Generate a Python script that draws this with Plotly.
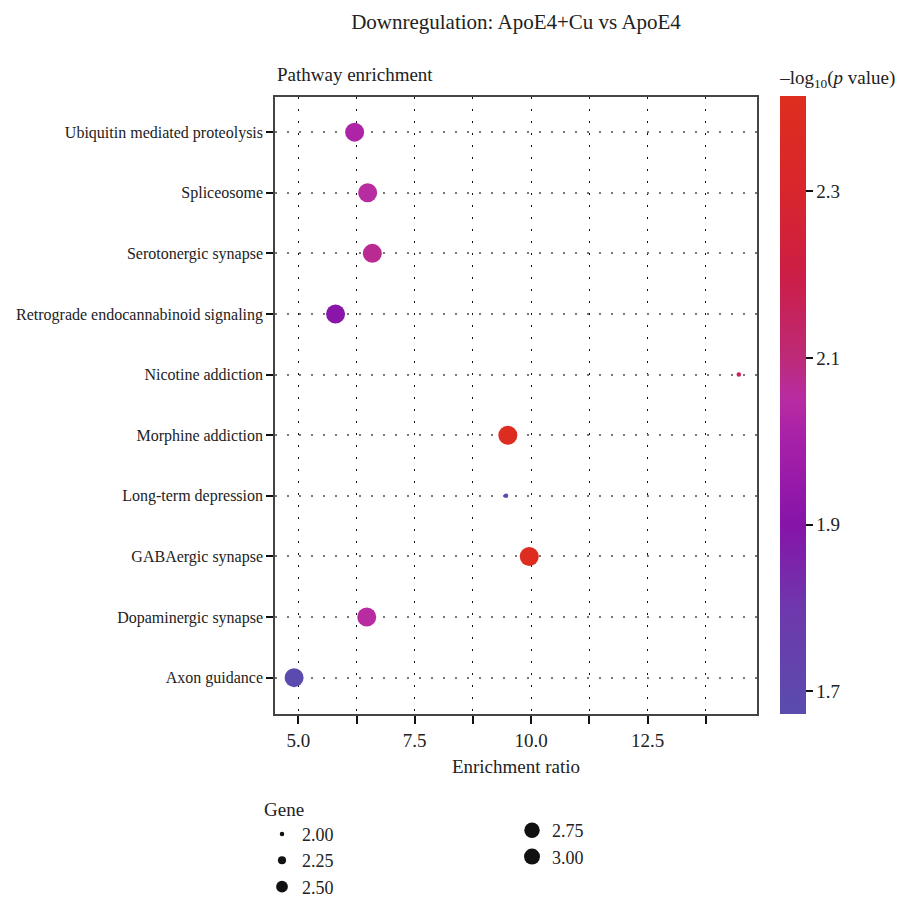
import plotly.graph_objects as go

# ---- data (bottom -> top on the y axis) ----
pathways = [
    "Axon guidance",
    "Dopaminergic synapse",
    "GABAergic synapse",
    "Long-term depression",
    "Morphine addiction",
    "Nicotine addiction",
    "Retrograde endocannabinoid signaling",
    "Serotonergic synapse",
    "Spliceosome",
    "Ubiquitin mediated proteolysis",
]
enrichment_ratio = [4.91, 6.47, 9.96, 9.46, 9.50, 14.46, 5.80, 6.59, 6.49, 6.21]
neg_log10_p = [1.68, 2.05, 2.40, 1.70, 2.40, 2.16, 1.91, 2.07, 2.05, 2.02]
gene_count = [3, 3, 3, 2, 3, 2, 3, 3, 3, 3]

legend_genes_col1 = [2.00, 2.25, 2.50]
legend_genes_col2 = [2.75, 3.00]
colorbar_ticks = [1.7, 1.9, 2.1, 2.3]
x_ticks = [5.0, 7.5, 10.0, 12.5]

FONT = "Liberation Serif"
TXT = "#222222"
FS = 19


def gene_size(g):
    return 4.5 + (g - 2.0) * 14.5


colorscale = [
    [0.000, "#5a4cae"],
    [0.170, "#6e38ac"],
    [0.306, "#8614a9"],
    [0.440, "#a620a8"],
    [0.510, "#b82ca2"],
    [0.576, "#bd2a78"],
    [0.710, "#cc1e46"],
    [0.846, "#d8262c"],
    [1.000, "#de2e1e"],
]

fig = go.Figure()

fig.add_trace(go.Scatter(
    x=enrichment_ratio,
    y=pathways,
    mode="markers",
    showlegend=False,
    marker=dict(
        size=[gene_size(g) for g in gene_count],
        opacity=1,
        color=neg_log10_p,
        colorscale=colorscale,
        cmin=1.673,
        cmax=2.414,
        line=dict(width=0),
        colorbar=dict(
            title=dict(text="–log<sub>10</sub>(<i>p</i> value)",
                       side="top", font=dict(family=FONT, size=FS, color=TXT)),
            thickness=26,
            lenmode="pixels",
            len=617 + 30,
            y=0,
            yanchor="bottom",
            x=1.048,
            xanchor="left",
            xpad=0,
            ypad=0,
            outlinewidth=0,
            tickvals=colorbar_ticks,
            ticktext=[f"{v:.1f}" for v in colorbar_ticks],
            ticks="outside",
            ticklen=7,
            tickwidth=2,
            tickcolor="#111111",
            tickfont=dict(family=FONT, size=FS, color=TXT),
        ),
    ),
))

# legend dummy traces
for g in legend_genes_col1:
    fig.add_trace(go.Scatter(
        x=[None], y=[None], mode="markers", name=f"{g:.2f}",
        marker=dict(size=gene_size(g), color="#111111", opacity=1),
        legend="legend",
    ))
for g in legend_genes_col2:
    fig.add_trace(go.Scatter(
        x=[None], y=[None], mode="markers", name=f"{g:.2f}",
        marker=dict(size=gene_size(g), color="#111111", opacity=1),
        legend="legend2",
    ))

fig.update_layout(
    width=907,
    height=900,
    margin=dict(l=275, r=150, t=97, b=186, autoexpand=False),
    paper_bgcolor="white",
    plot_bgcolor="white",
    font=dict(family=FONT, color=TXT),
    title=dict(text="Downregulation: ApoE4+Cu vs ApoE4",
               x=(275 + 757) / 2 / 907, xanchor="center",
               y=1 - 22 / 900, yanchor="middle",
               font=dict(family=FONT, size=21, color=TXT)),
    xaxis=dict(
        range=[4.5, 14.85],
        tickvals=x_ticks,
        ticktext=[f"{v:.1f}" for v in x_ticks],
        ticks="outside", ticklen=8, tickwidth=2, tickcolor="#111111",
        tickfont=dict(family=FONT, size=FS, color=TXT),
        showline=True, linecolor="#444444", linewidth=1.5, mirror=True,
        showgrid=True, gridcolor="#111111", gridwidth=1, griddash="1.5px,10.5px",
        minor=dict(dtick=1.25, tick0=5.0, ticks="outside", ticklen=8, tickwidth=2,
                   tickcolor="#111111", showgrid=True, gridcolor="#111111",
                   gridwidth=1, griddash="1.5px,10.5px"),
        title=dict(text="Enrichment ratio", standoff=10,
                   font=dict(family=FONT, size=FS, color=TXT)),
        zeroline=False,
    ),
    yaxis=dict(
        type="category",
        categoryorder="array",
        categoryarray=pathways,
        range=[-0.6, 9.58],
        ticks="outside", ticklen=7, tickwidth=2, tickcolor="#111111",
        tickfont=dict(family=FONT, size=16, color=TXT),
        showline=True, linecolor="#444444", linewidth=1.5, mirror=True,
        showgrid=True, gridcolor="#777777", gridwidth=1.5, griddash="2px,10px",
        zeroline=False,
    ),
    annotations=[dict(
        text="Pathway enrichment", xref="paper", yref="paper",
        x=0.0, y=1.0, xanchor="left", yanchor="bottom", yshift=10,
        showarrow=False, font=dict(family=FONT, size=FS, color=TXT),
    )],
    legend=dict(
        title=dict(text="Gene", font=dict(family=FONT, size=FS, color=TXT)),
        xref="container", yref="container",
        x=262 / 907, y=1 - 791 / 900, xanchor="left", yanchor="top",
        orientation="v", itemsizing="trace",
        font=dict(family=FONT, size=18, color=TXT),
        bgcolor="rgba(0,0,0,0)", tracegroupgap=0, itemwidth=30,
    ),
    legend2=dict(
        xref="container", yref="container",
        x=512 / 907, y=1 - 812 / 900, xanchor="left", yanchor="top",
        orientation="v", itemsizing="trace",
        font=dict(family=FONT, size=18, color=TXT),
        bgcolor="rgba(0,0,0,0)", tracegroupgap=0, itemwidth=30,
    ),
)

fig.write_html("out.html")
